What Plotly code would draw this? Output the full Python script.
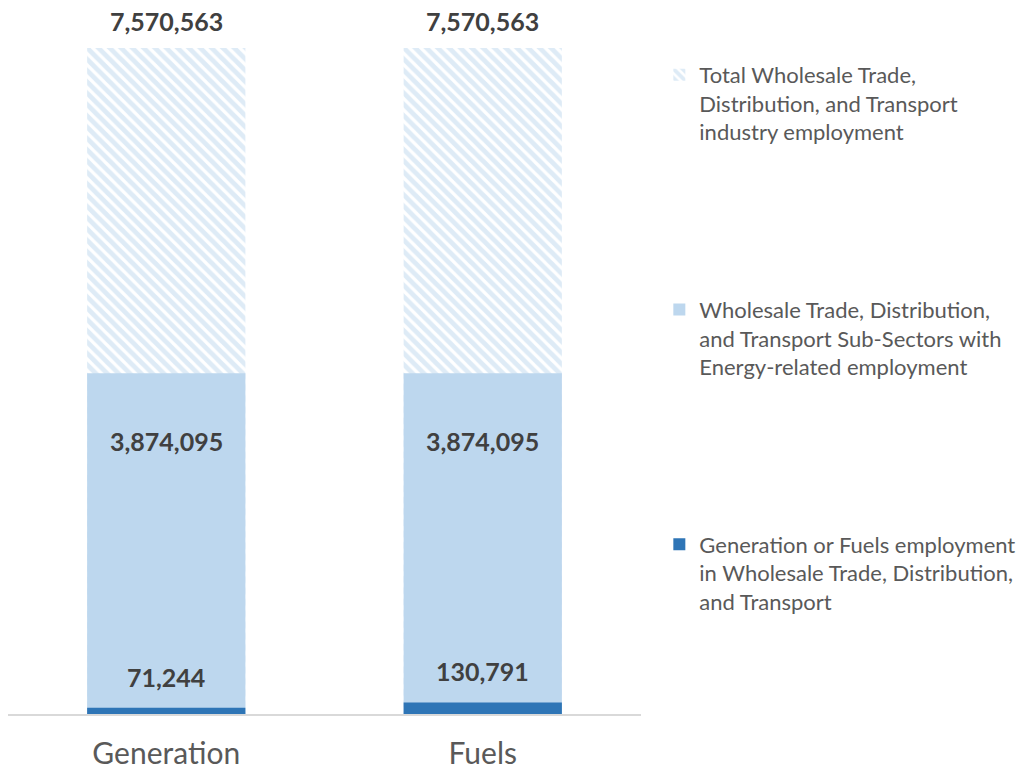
import plotly.graph_objects as go

# Employment figures per segment
categories = ["Generation", "Fuels"]
total_industry = [7570563, 7570563]
energy_subsectors = [3874095, 3874095]
segment_employment = [71244, 130791]

series_names = [
    "Total Wholesale Trade,<br>Distribution, and Transport<br>industry employment",
    "Wholesale Trade, Distribution,<br>and Transport Sub-Sectors with<br>Energy-related employment",
    "Generation or Fuels employment<br>in Wholesale Trade, Distribution,<br>and Transport",
]

LIGHT = "#BDD7EE"
DARK = "#2E75B6"
TEXT = "#404040"
FONT = "Lato"

fig = go.Figure()

fig.add_trace(go.Bar(
    x=categories, y=total_industry, name=series_names[0], legendgroup="a",
    marker=dict(color="white", line=dict(width=0),
                pattern=dict(shape="\\", fgcolor=LIGHT, bgcolor="white",
                             size=8, solidity=0.6)),
))
fig.add_trace(go.Bar(
    x=categories, y=energy_subsectors, name=series_names[1], legendgroup="b",
    marker=dict(color=LIGHT, line=dict(width=0)),
))
fig.add_trace(go.Bar(
    x=categories, y=segment_employment, name=series_names[2], legendgroup="c",
    marker=dict(color=DARK, line=dict(width=0)),
))

# value labels
label_font = dict(family=FONT, size=25, color=TEXT, weight="bold")
for cat, v in zip(categories, total_industry):
    fig.add_annotation(x=cat, y=v, text=f"{v:,}", showarrow=False,
                       yanchor="middle", yshift=27, font=label_font)
for cat, v in zip(categories, energy_subsectors):
    fig.add_annotation(x=cat, y=v, text=f"{v:,}", showarrow=False,
                       yanchor="middle", yshift=-68, font=label_font)
for cat, v in zip(categories, segment_employment):
    fig.add_annotation(x=cat, y=v, text=f"{v:,}", showarrow=False,
                       yanchor="middle", yshift=31, font=label_font)

fig.update_layout(
    width=1027, height=770,
    margin=dict(l=8, r=386, t=48, b=56, autoexpand=False),
    barmode="overlay", bargap=0.5,
    plot_bgcolor="white", paper_bgcolor="white",
    font=dict(family=FONT, color="#595959"),
    xaxis=dict(showline=True, linecolor="#D9D9D9", linewidth=2,
               ticks="", tickfont=dict(size=30, color="#595959"),
               ticklabelstandoff=12, showgrid=False, automargin=False),
    yaxis=dict(visible=False, range=[0, total_industry[0]], showgrid=False,
               automargin=False),
    legend=dict(xref="container", yref="container", x=0.642, y=0.930,
                xanchor="left", yanchor="top", maxheight=760,
                font=dict(family=FONT, size=22, color="#595959"),
                traceorder="grouped", tracegroupgap=146, valign="top",
                itemwidth=30),
    showlegend=True,
)

fig.write_html("out.html")
